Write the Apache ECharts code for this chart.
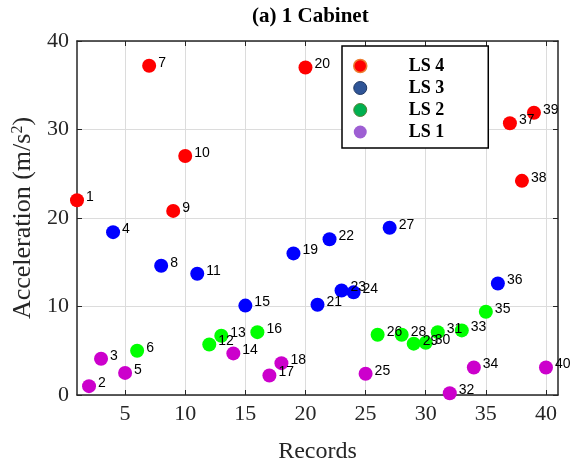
<!DOCTYPE html>
<html>
<head>
<meta charset="utf-8">
<script src="https://cdn.jsdelivr.net/npm/echarts@6/dist/echarts.min.js"></script>
<style>
  html, body { margin: 0; padding: 0; background: #fff; }
  #chart { width: 577px; height: 469px; }
</style>
</head>
<body>
<div id="chart"></div>
<script>
// Record numbers and peak accelerations (m/s^2), grouped by limit state
const ls4Records = [1, 7, 9, 10, 20, 37, 38, 39];
const ls4Values  = [22.0, 37.2, 20.8, 27.0, 37.0, 30.7, 24.2, 31.9];

const ls3Records = [4, 8, 11, 15, 19, 21, 22, 23, 24, 27, 36];
const ls3Values  = [18.4, 14.6, 13.7, 10.1, 16.0, 10.2, 17.6, 11.8, 11.6, 18.9, 12.6];

const ls2Records = [6, 12, 13, 16, 26, 28, 29, 30, 31, 33, 35];
const ls2Values  = [5.0, 5.7, 6.7, 7.1, 6.8, 6.8, 5.8, 5.9, 7.1, 7.3, 9.4];

const ls1Records = [2, 3, 5, 14, 17, 18, 25, 32, 34, 40];
const ls1Values  = [1.0, 4.1, 2.5, 4.7, 2.2, 3.6, 2.4, 0.2, 3.1, 3.1];

const xTicks = [5, 10, 15, 20, 25, 30, 35, 40];
const yTicks = [0, 10, 20, 30, 40];

const seriesNames = ['LS 4', 'LS 3', 'LS 2', 'LS 1'];

const SERIF = "'Liberation Serif', 'Times New Roman', serif";
const SANS = "'Liberation Sans', Arial, sans-serif";
const AXIS_COLOR = '#262626';
const GRID_COLOR = '#dcdcdc';

function points(records, values) {
  return records.map((r, i) => [r, values[i]]);
}

function scatter(name, records, values, color) {
  return {
    name: name,
    type: 'scatter',
    symbol: 'circle',
    symbolSize: 14,
    itemStyle: { color: color, opacity: 1 },
    label: {
      show: true,
      position: 'right',
      distance: 2,
      offset: [0, -3],
      color: '#000',
      fontFamily: SANS,
      fontSize: 14,
      formatter: p => String(p.value[0])
    },
    data: points(records, values)
  };
}

const chart = echarts.init(document.getElementById('chart'), null, { renderer: 'canvas' });

chart.setOption({
  backgroundColor: '#fff',
  animation: false,
  title: {
    text: '(a) 1 Cabinet',
    left: 252,
    top: 6,
    padding: 0,
    textStyle: { fontFamily: SERIF, fontWeight: 'bold', fontSize: 21, color: '#000' }
  },
  grid: { left: 77, right: 19, top: 41, bottom: 72, containLabel: false },
  legend: {
    orient: 'vertical',
    left: 342,
    top: 46,
    padding: [11, 44, 7, 11],
    itemWidth: 15,
    itemHeight: 13,
    itemGap: 4,
    borderColor: '#000',
    borderWidth: 1.5,
    backgroundColor: '#fff',
    selectedMode: false,
    textStyle: {
      fontFamily: SERIF, fontWeight: 'bold', fontSize: 18, color: '#000',
      padding: [0, 0, 0, 36]
    },
    data: [
      { name: seriesNames[0], icon: 'circle', itemStyle: { color: '#ff0000', borderColor: '#ed7d31', borderWidth: 1.5 } },
      { name: seriesNames[1], icon: 'circle', itemStyle: { color: '#2f5597', borderColor: '#1f3864', borderWidth: 1 } },
      { name: seriesNames[2], icon: 'circle', itemStyle: { color: '#00b050', borderColor: '#548235', borderWidth: 1 } },
      { name: seriesNames[3], icon: 'circle', itemStyle: { color: '#9e5fd3', borderColor: '#9e5fd3', borderWidth: 0 } }
    ]
  },
  xAxis: [
    {
      type: 'value',
      min: 1,
      max: 41,
      name: 'Records',
      nameLocation: 'middle',
      nameGap: 45,
      nameTextStyle: { fontFamily: SERIF, fontSize: 24, color: AXIS_COLOR },
      axisLine: { show: true, onZero: false, lineStyle: { color: AXIS_COLOR, width: 1.5 } },
      axisTick: { show: true, inside: true, length: 5, customValues: xTicks, lineStyle: { color: AXIS_COLOR } },
      axisLabel: { customValues: xTicks, margin: 8, fontFamily: SERIF, fontSize: 22, color: AXIS_COLOR },
      splitLine: { show: true, lineStyle: { color: GRID_COLOR, width: 1 } }
    },
    {
      type: 'value',
      position: 'top',
      min: 1,
      max: 41,
      axisLine: { show: true, onZero: false, lineStyle: { color: AXIS_COLOR, width: 1.5 } },
      axisTick: { show: true, inside: true, length: 5, customValues: xTicks, lineStyle: { color: AXIS_COLOR } },
      axisLabel: { show: false },
      splitLine: { show: false }
    }
  ],
  yAxis: [
    {
      type: 'value',
      min: 0,
      max: 40,
      interval: 10,
      name: 'Acceleration (m/s{sup|2})',
      nameLocation: 'middle',
      nameGap: 32,
      nameTextStyle: {
        fontFamily: SERIF, fontSize: 26, color: AXIS_COLOR,
        rich: { sup: { fontFamily: SERIF, fontSize: 16, color: AXIS_COLOR, verticalAlign: 'top', padding: [0, 0, 10, 0] } }
      },
      axisLine: { show: true, onZero: false, lineStyle: { color: AXIS_COLOR, width: 1.5 } },
      axisTick: { show: true, inside: true, length: 5, lineStyle: { color: AXIS_COLOR } },
      axisLabel: { margin: 8, fontFamily: SERIF, fontSize: 22, color: AXIS_COLOR },
      splitLine: { show: true, lineStyle: { color: GRID_COLOR, width: 1 } }
    },
    {
      type: 'value',
      position: 'right',
      min: 0,
      max: 40,
      interval: 10,
      axisLine: { show: true, onZero: false, lineStyle: { color: AXIS_COLOR, width: 1.5 } },
      axisTick: { show: true, inside: true, length: 5, lineStyle: { color: AXIS_COLOR } },
      axisLabel: { show: false },
      splitLine: { show: false }
    }
  ],
  series: [
    scatter(seriesNames[0], ls4Records, ls4Values, '#ff0000'),
    scatter(seriesNames[1], ls3Records, ls3Values, '#0000ff'),
    scatter(seriesNames[2], ls2Records, ls2Values, '#00ff00'),
    scatter(seriesNames[3], ls1Records, ls1Values, '#cc00cc')
  ]
});
</script>
</body>
</html>
